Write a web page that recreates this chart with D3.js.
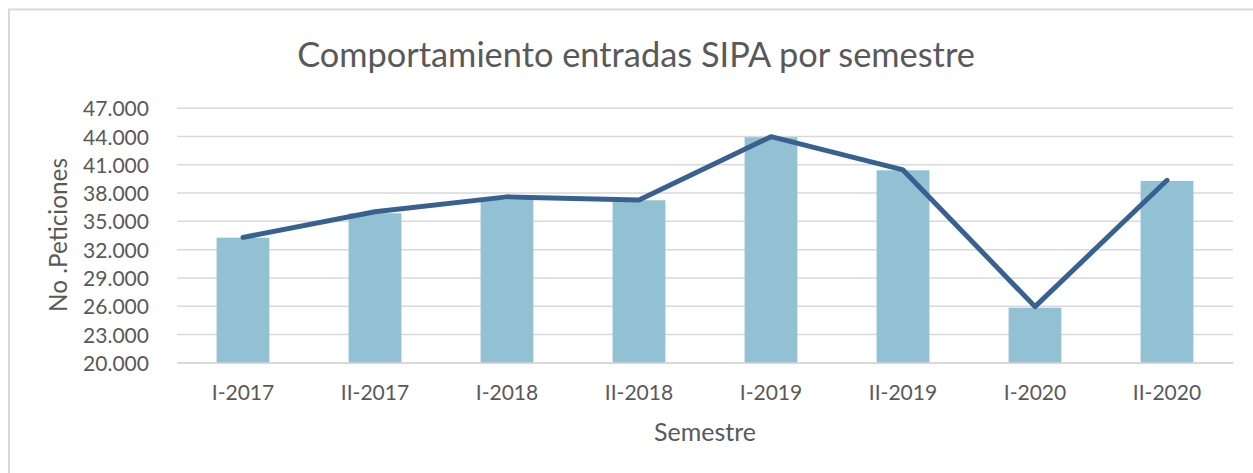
<!DOCTYPE html>
<html>
<head>
<meta charset="utf-8">
<script src="https://cdn.jsdelivr.net/npm/d3@7"></script>
<style>
  html, body { margin: 0; padding: 0; background: #fff; }
  svg { display: block; }
  text { font-family: Lato, "Open Sans", sans-serif; fill: #595959; }
</style>
</head>
<body>
<svg id="chart" width="1253" height="473"></svg>
<script>
const categories = ["I-2017", "II-2017", "I-2018", "II-2018", "I-2019", "II-2019", "I-2020", "II-2020"];
const barValues  = [33270, 35860, 37300, 37240, 43930, 40420, 25840, 39290];
const lineValues = [33300, 36020, 37600, 37270, 43990, 40460, 25950, 39360];
const yTicks = [20000, 23000, 26000, 29000, 32000, 35000, 38000, 41000, 44000, 47000];
const titleText = "Comportamiento entradas SIPA por semestre";
const yTitle = "No .Peticiones";
const xTitle = "Semestre";

const svg = d3.select("#chart");
const W = 1253, H = 473;
const plot = { left: 177, right: 1233, top: 108.3, bottom: 362.7 };

const locale = d3.formatLocale({ decimal: ",", thousands: ".", grouping: [3], currency: ["", ""] });
const fmt = locale.format(",");

function fitSize(text, target, base) {
  const t = svg.append("text").attr("font-size", base).text(text);
  const w = t.node().getComputedTextLength();
  t.remove();
  return base * target / w;
}

// outer border
svg.append("rect")
  .attr("x", 9).attr("y", 9.5)
  .attr("width", W + 20).attr("height", H + 20)
  .attr("fill", "#fff").attr("stroke", "#d9d9d9").attr("stroke-width", 2);

const x = d3.scaleBand().domain(categories)
  .range([plot.left, plot.right]).paddingInner(0.6).paddingOuter(0.3);
const y = d3.scaleLinear().domain([20000, 47000]).range([plot.bottom, plot.top]);

// gridlines
svg.append("g").selectAll("line").data(yTicks).join("line")
  .attr("x1", plot.left).attr("x2", plot.right)
  .attr("y1", d => y(d)).attr("y2", d => y(d))
  .attr("stroke", "#d9d9d9").attr("stroke-width", 1.5);

// bars
svg.append("g").selectAll("rect").data(categories).join("rect")
  .attr("x", d => x(d))
  .attr("width", x.bandwidth())
  .attr("y", (d, i) => y(barValues[i]))
  .attr("height", (d, i) => y(20000) - y(barValues[i]))
  .attr("fill", "#92c1d3");

// line
const line = d3.line()
  .x((d, i) => x(categories[i]) + x.bandwidth() / 2)
  .y(d => y(d));
svg.append("path").datum(lineValues)
  .attr("d", line)
  .attr("fill", "none")
  .attr("stroke", "#37618f")
  .attr("stroke-width", 5)
  .attr("stroke-linejoin", "round")
  .attr("stroke-linecap", "round");

// y axis labels
const tickSize = fitSize("47.000", 66, 20);
const yAxis = d3.axisLeft(y).tickValues(yTicks).tickFormat(fmt).tickSize(0).tickPadding(28);
const gy = svg.append("g").attr("transform", `translate(${plot.left},0)`).call(yAxis);
gy.select(".domain").remove();
gy.selectAll("text").attr("font-size", tickSize).attr("fill", "#595959")
  .attr("font-family", "Lato, 'Open Sans', sans-serif").attr("dy", "0.36em");

// x axis labels
const xAxis = d3.axisBottom(x).tickSize(0).tickPadding(0);
const gx = svg.append("g").attr("transform", `translate(0,${plot.bottom})`).call(xAxis);
gx.select(".domain").attr("stroke", "#d9d9d9").attr("stroke-width", 1.5);
gx.selectAll("text").attr("font-size", tickSize).attr("fill", "#595959")
  .attr("font-family", "Lato, 'Open Sans', sans-serif")
  .attr("dy", null).attr("y", 37);

// title
const titleSize = fitSize(titleText, 678, 30);
svg.append("text").attr("x", 636).attr("y", 67)
  .attr("text-anchor", "middle").attr("font-size", titleSize).text(titleText);

// axis titles
const axTitleSize = fitSize(xTitle, 102, 20);
svg.append("text").attr("x", (plot.left + plot.right) / 2).attr("y", 441)
  .attr("text-anchor", "middle").attr("font-size", axTitleSize).text(xTitle);

const yTitleSize = fitSize(yTitle, 154, 20);
svg.append("text")
  .attr("transform", "translate(67,235) rotate(-90)")
  .attr("text-anchor", "middle").attr("font-size", yTitleSize).text(yTitle);
</script>
</body>
</html>
